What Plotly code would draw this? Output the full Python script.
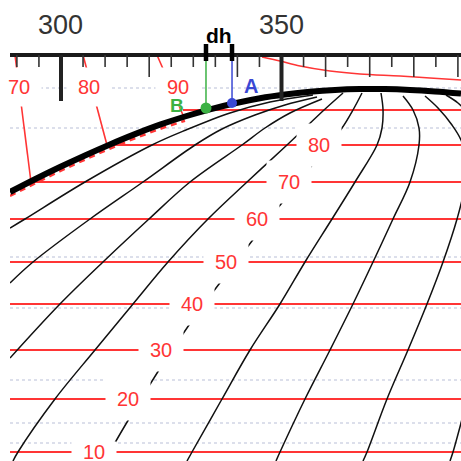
import plotly.graph_objects as go

# ---------------- data (x in ruler units, y = vertical chart coordinate, 0 = top) -------------
ruler_ticks = list(range(290, 391, 5))
ruler_major = [300, 350]
ruler_medium = [320, 340, 360, 370, 380, 390]
ruler_y = 55
x_min, x_max = 288.44, 390.70

levels = [10, 20, 30, 40, 50, 60, 70, 80, 90]
level_y = [452, 399, 350, 304, 262, 219, 182, 145, 110]
level_start = [288.44, 288.44, 288.44, 288.44, 288.44, 288.44, 292.97, 310.43, 327.66]
label_x = [307.48, 315.19, 322.68, 329.71, 337.41, 344.44, 351.70, 358.50]
label_box_h = [18, 40, 40, 40, 40, 40, 40, 40]

top_labels = ["70", "80", "90"]
top_label_x = [290.48, 306.35, 326.53]
top_label_y = 87

leader_x = [[289.57, 293.20], [304.99, 310.43], [321.77, 327.66]]
leader_y = [[55, 182], [55, 145], [55, 115]]

gray_y = [88, 128, 257, 308, 380, 423, 443]

horizon_x = [288.44, 294.10, 299.77, 305.44, 311.11, 316.78, 322.45, 328.12, 333.79, 339.46,
             345.12, 350.79, 356.46, 362.13, 367.80, 373.47, 379.14, 384.81, 390.70]
horizon_y = [192, 179.2, 167.0, 155.4, 144.4, 134.1, 124.7, 116.5, 109.3, 103.2,
             98.2, 94.5, 91.7, 89.9, 89.1, 89.1, 89.9, 91.4, 93.5]

refr_x = [288.44, 294.10, 299.77, 305.44, 311.11, 316.78, 322.45, 328.12]
refr_y = [196, 183.4, 171.2, 159.6, 148.6, 138.3, 128.9, 120.7]

top_red_x = [345.58, 349.66, 354.20, 361.00, 367.80, 376.87, 383.67, 390.70]
top_red_y = [57, 61, 66, 71, 74, 76, 78, 80]

meridians = {
    "K-1": ([288.44, 291.84, 305.44, 320.63, 328.34, 338.32, 347.39, 357.14],
            [228, 219, 182, 145, 130, 113, 102, 95]),
    "K0": ([288.44, 293.65, 306.58, 318.59, 330.39, 336.51, 343.99, 350.79, 358.05],
           [283, 262, 219, 182, 145, 129, 115, 105, 97]),
    "K1": ([288.44, 299.77, 309.52, 319.95, 329.25, 341.04, 346.26, 351.93, 359.18],
           [358, 304, 262, 219, 182, 145, 128, 113, 99]),
    "K2": ([289.12, 290.25, 298.64, 307.71, 316.33, 324.26, 333.33, 342.18, 351.25, 355.33, 359.64, 363.95],
           [461, 452, 399, 350, 304, 262, 219, 182, 145, 128, 110, 93]),
    "K3": ([310.20, 311.11, 318.14, 325.17, 332.43, 339.68, 347.17, 353.97, 360.54, 363.72, 366.21, 368.25],
           [461, 452, 399, 350, 304, 262, 219, 182, 145, 128, 110, 93]),
    "K4": ([328.57, 329.71, 336.51, 342.86, 349.66, 355.33, 361.45, 366.67, 371.66, 372.79, 373.02, 372.56],
           [461, 452, 399, 350, 304, 262, 219, 182, 145, 128, 110, 93]),
    "K5": ([348.75, 349.66, 355.33, 361.00, 366.21, 370.75, 375.28, 379.14, 381.18, 381.18, 379.82, 377.55],
           [461, 452, 399, 350, 304, 262, 219, 182, 145, 128, 110, 96]),
    "K6": ([368.48, 369.39, 373.92, 378.68, 382.99, 386.62, 389.80, 391.38, 391.84, 390.70, 388.66, 385.49, 382.54],
           [461, 452, 399, 350, 304, 262, 219, 190, 160, 140, 125, 108, 96]),
    "K7a": ([388.21, 388.89, 390.70, 393.20], [461, 452, 423, 380]),
    "K7b": ([387.30, 390.02, 392.74], [95, 103, 115]),
}

point_A = (338.78, 103)
point_B = (332.88, 108)

RED = "#ff3535"
GREEN = "#3bb143"
BLUE = "#3a48d4"
FONT = "Liberation Sans, Arial, sans-serif"

fig = go.Figure()

def seg_trace(xs, ys, color, width, dash="solid", shape="linear"):
    fig.add_trace(go.Scatter(x=xs, y=ys, mode="lines", hoverinfo="skip",
                             line=dict(color=color, width=width, dash=dash, shape=shape)))

# gray dotted background lines
gx, gy = [], []
for y in gray_y:
    gx += [x_min, x_max, None]
    gy += [y, y, None]
seg_trace(gx, gy, "rgba(170,178,205,0.55)", 1.5, "dot")

# red level lines
rx, ry = [], []
for s, y in zip(level_start, level_y):
    rx += [s, x_max, None]
    ry += [y, y, None]
seg_trace(rx, ry, RED, 2)

# red leaders and curves
for lx, ly in zip(leader_x, leader_y):
    seg_trace(lx, ly, RED, 1.6)
seg_trace(top_red_x, top_red_y, RED, 1.6, shape="spline")
seg_trace(refr_x, refr_y, RED, 2.5, "6px,5px", "spline")

# meridians
for name, (mx, my) in meridians.items():
    seg_trace(mx, my, "#111111", 1.5, shape="spline")

# horizon thick curve
seg_trace(horizon_x, horizon_y, "#000000", 6, shape="spline")

# ruler
seg_trace([x_min, x_max], [ruler_y, ruler_y], "#1a1a1a", 4)
tx, ty = [], []
for t in ruler_ticks:
    if t in ruler_major:
        continue
    ln = 22 if t in ruler_medium else 12
    tx += [t, t, None]
    ty += [ruler_y, ruler_y + ln, None]
seg_trace(tx, ty, "#333333", 1.6)
mx_, my_ = [], []
for t in ruler_major:
    mx_ += [t, t, None]
    my_ += [ruler_y, ruler_y + 46, None]
seg_trace(mx_, my_, "#222222", 4)

# A and B verticals + dh bars
seg_trace([point_B[0], point_B[0]], [ruler_y + 4, point_B[1]], GREEN, 1.5)
seg_trace([point_A[0], point_A[0]], [ruler_y + 4, point_A[1]], BLUE, 1.5)
seg_trace([point_B[0], point_B[0], None, point_A[0], point_A[0]],
          [44, 61, None, 44, 61], "#000000", 4.5)
fig.add_trace(go.Scatter(x=[point_B[0]], y=[point_B[1]], mode="markers", hoverinfo="skip",
                         marker=dict(color=GREEN, size=11)))
fig.add_trace(go.Scatter(x=[point_A[0]], y=[point_A[1]], mode="markers", hoverinfo="skip",
                         marker=dict(color=BLUE, size=10)))

ann = []
for lv, lx, ly, bh in zip(levels, label_x, level_y, label_box_h):
    ann.append(dict(x=lx, y=ly, xref="x", yref="y", text=str(lv), showarrow=False,
                    font=dict(family=FONT, size=20, color=RED), bgcolor="white",
                    width=42, height=bh, xanchor="center", yanchor="middle"))
for t, lx in zip(top_labels, top_label_x):
    ann.append(dict(x=lx, y=top_label_y, xref="x", yref="y", text=t, showarrow=False,
                    font=dict(family=FONT, size=20, color=RED), bgcolor="white",
                    width=42, height=36, xanchor="center", yanchor="middle"))
for t in ruler_major:
    ann.append(dict(x=t, y=25, xref="x", yref="y", text=str(t), showarrow=False,
                    font=dict(family=FONT, size=27, color="#333333"),
                    xanchor="center", yanchor="middle"))
ann.append(dict(x=(point_A[0] + point_B[0]) / 2, y=35, xref="x", yref="y", text="<b>dh</b>",
                showarrow=False, font=dict(family=FONT, size=21, color="#000000"),
                xanchor="center", yanchor="middle"))
ann.append(dict(x=343.08, y=86, xref="x", yref="y", text="<b>A</b>", showarrow=False,
                font=dict(family=FONT, size=20, color=BLUE), xanchor="center", yanchor="middle"))
ann.append(dict(x=326.30, y=105, xref="x", yref="y", text="<b>B</b>", showarrow=False,
                font=dict(family=FONT, size=19, color=GREEN), xanchor="center", yanchor="middle"))

fig.update_layout(
    width=461, height=461,
    margin=dict(l=10, r=0, t=0, b=0),
    paper_bgcolor="white", plot_bgcolor="white",
    showlegend=False,
    xaxis=dict(range=[x_min, x_max], visible=False, fixedrange=True),
    yaxis=dict(range=[461, 0], visible=False, fixedrange=True),
    annotations=ann,
)
fig.write_html("out.html", config={"displayModeBar": False})
